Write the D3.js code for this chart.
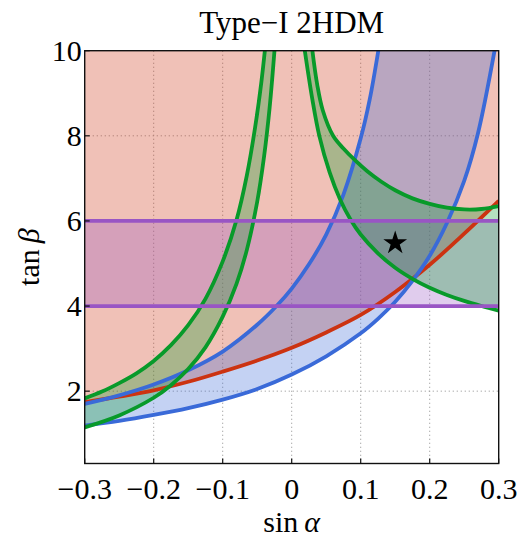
<!DOCTYPE html>
<html><head><meta charset="utf-8">
<script src="https://cdn.jsdelivr.net/npm/d3@7/dist/d3.min.js"></script>
<style>
body{margin:0;background:#fff}
text{font-family:"Liberation Serif","Times New Roman",serif;fill:#000}
</style>
</head><body>
<svg id="chart" width="517" height="541"></svg>
<script>
// ---------- data (sinα, tanβ) ----------
const xDomain = [-0.3, 0.3];
const yDomain = [0.3, 10];
const xTicks = [-0.3, -0.2, -0.1, 0, 0.1, 0.2, 0.3];
const xTickLabels = ["\u22120.3", "\u22120.2", "\u22120.1", "0", "0.1", "0.2", "0.3"];
const yTicks = [2, 4, 6, 8, 10];
const yTickLabels = ["2", "4", "6", "8", "10"];

// red boundary (region above it is shaded)
const redCurve = [[-0.3,1.74],[-0.25,1.87],[-0.2,2.02],[-0.15,2.22],[-0.1,2.46],[-0.05,2.72],[0,3.02],[0.05,3.38],[0.1,3.79],[0.15,4.33],[0.2,4.97],[0.25,5.70],[0.3,6.47]];

// blue band: upper and lower edges
const blueUpper = [[-0.3,1.70],[-0.25,1.90],[-0.2,2.155],[-0.15,2.49],[-0.1,2.93],[-0.05,3.56],[-0.022,4.0],[0,4.41],[0.025,4.98],[0.05,5.68],[0.075,6.62],[0.1,7.94],[0.113,8.85],[0.1255,10.0]];
const blueLower = [[-0.3,1.19],[-0.25,1.30],[-0.2,1.44],[-0.15,1.60],[-0.1,1.80],[-0.05,2.05],[0,2.39],[0.05,2.82],[0.1,3.36],[0.125,3.70],[0.15,4.10],[0.175,4.59],[0.2,5.18],[0.225,5.95],[0.25,6.94],[0.27,8.06],[0.294,10.0]];

// green band, left branch
const greenLeftOuter = [[-0.3,1.83],[-0.275,1.99],[-0.25,2.19],[-0.225,2.42],[-0.2,2.71],[-0.175,3.08],[-0.15,3.55],[-0.125,4.17],[-0.1,5.05],[-0.08,6.02],[-0.065,7.07],[-0.053,8.2],[-0.044,9.26],[-0.037,10.3]];
const greenLeftInner = [[-0.3,1.15],[-0.25,1.43],[-0.2,1.845],[-0.175,2.14],[-0.15,2.52],[-0.125,3.03],[-0.1,3.75],[-0.08,4.52],[-0.065,5.32],[-0.05,6.45],[-0.04,7.52],[-0.032,8.66],[-0.024,10.2]];

// green band, right branch
const greenRightLower = [[0.019,10.0],[0.03,8.85],[0.04,8.0],[0.055,7.14],[0.07,6.51],[0.085,6.04],[0.1,5.68],[0.125,5.24],[0.15,4.9],[0.175,4.64],[0.2,4.43],[0.225,4.26],[0.25,4.12],[0.275,4.0],[0.3,3.89]];
const greenRightUpper = [[0.03,10.0],[0.037,9.2],[0.045,8.6],[0.06,8.0],[0.075,7.7],[0.092,7.42],[0.11,7.16],[0.13,6.92],[0.15,6.72],[0.175,6.53],[0.2,6.4],[0.225,6.31],[0.25,6.27],[0.275,6.28],[0.3,6.35]];

// purple horizontal band
const purpleBand = [4, 6];

// benchmark point
const starPoint = [0.15, 5.48];

const title = "Type\u2212I 2HDM";

// ---------- colours ----------
const cRed = "#cc3311", cBlue = "#3a6ad8", cGreen = "#089a2a", cPurple = "#9955c4";
const fillOp = 0.3;
const FONT = "Liberation Serif, Times New Roman, serif";

// ---------- layout ----------
const svg = d3.select("#chart");
const W = 517, H = 541;
const margin = {left: 84.7, right: W - 498.7, top: 50.7, bottom: H - 463.5};
const x = d3.scaleLinear().domain(xDomain).range([margin.left, W - margin.right]);
const y = d3.scaleLinear().domain(yDomain).range([H - margin.bottom, margin.top]);
const [x0, x1] = x.range();
const [yb, yt] = y.range();

svg.append("rect").attr("width", W).attr("height", H).attr("fill", "#fff");

svg.append("defs").append("clipPath").attr("id", "plotClip")
  .append("rect").attr("x", x0).attr("y", yt).attr("width", x1 - x0).attr("height", yb - yt);

// grid
const grid = svg.append("g");
grid.selectAll(".gx").data(xTicks.slice(1, -1)).join("line")
  .attr("x1", d => x(d)).attr("x2", d => x(d)).attr("y1", yt).attr("y2", yb)
  .attr("stroke", "#a0a0a0").attr("stroke-width", 1).attr("stroke-dasharray", "1.2,2.8");
grid.selectAll(".gy").data(yTicks.slice(0, -1)).join("line")
  .attr("x1", x0).attr("x2", x1).attr("y1", d => y(d)).attr("y2", d => y(d))
  .attr("stroke", "#a0a0a0").attr("stroke-width", 1).attr("stroke-dasharray", "1.2,2.8");

const plot = svg.append("g").attr("clip-path", "url(#plotClip)");

const line = d3.line().x(d => x(d[0])).y(d => y(d[1])).curve(d3.curveCatmullRom.alpha(0.5));
const cont = pts => line(pts).replace(/^M/, "L");
function band(a, b) { return line(a) + cont(b.slice().reverse()) + "Z"; }

// fills
const topY = yDomain[1];
plot.append("path")
  .attr("d", line(redCurve) + `L${x(xDomain[1])},${y(topY)}L${x(xDomain[0])},${y(topY)}Z`)
  .attr("fill", cRed).attr("fill-opacity", fillOp);
plot.append("path").attr("d", band(blueUpper, blueLower))
  .attr("fill", cBlue).attr("fill-opacity", fillOp);
plot.append("rect")
  .attr("x", x0).attr("width", x1 - x0)
  .attr("y", y(purpleBand[1])).attr("height", y(purpleBand[0]) - y(purpleBand[1]))
  .attr("fill", cPurple).attr("fill-opacity", fillOp);
plot.append("path").attr("d", band(greenLeftOuter, greenLeftInner))
  .attr("fill", cGreen).attr("fill-opacity", fillOp);
plot.append("path").attr("d", band(greenRightLower, greenRightUpper))
  .attr("fill", cGreen).attr("fill-opacity", fillOp);

// boundary lines
const lw = 3.8;
plot.append("path").attr("d", line(redCurve)).attr("fill", "none").attr("stroke", cRed).attr("stroke-width", lw);
[blueUpper, blueLower].forEach(c => plot.append("path").attr("d", line(c)).attr("fill", "none").attr("stroke", cBlue).attr("stroke-width", lw));
[greenLeftOuter, greenLeftInner, greenRightLower, greenRightUpper].forEach(c =>
  plot.append("path").attr("d", line(c)).attr("fill", "none").attr("stroke", cGreen).attr("stroke-width", lw));
purpleBand.forEach(v => plot.append("line").attr("x1", x0).attr("x2", x1).attr("y1", y(v)).attr("y2", y(v))
  .attr("stroke", cPurple).attr("stroke-width", lw));

// star
plot.append("path").attr("d", d3.symbol(d3.symbolStar, 175)())
  .attr("transform", `translate(${x(starPoint[0])},${y(starPoint[1])})`).attr("fill", "#000");

// frame
svg.append("rect").attr("x", x0).attr("y", yt).attr("width", x1 - x0).attr("height", yb - yt)
  .attr("fill", "none").attr("stroke", "#111").attr("stroke-width", 1.4);

// ticks
svg.selectAll(".tx").data(xTicks).join("line")
  .attr("x1", d => x(d)).attr("x2", d => x(d)).attr("y1", yb).attr("y2", yb - 5)
  .attr("stroke", "#111").attr("stroke-width", 1.2);
svg.selectAll(".ty").data(yTicks).join("line")
  .attr("x1", x0).attr("x2", x0 + 5).attr("y1", d => y(d)).attr("y2", d => y(d))
  .attr("stroke", "#111").attr("stroke-width", 1.2);

// tick labels
svg.selectAll(".lx").data(xTicks).join("text")
  .attr("x", d => x(d)).attr("y", yb + 35).attr("text-anchor", "middle")
  .attr("font-family", FONT).attr("font-size", 30).text((d, i) => xTickLabels[i]);
svg.selectAll(".ly").data(yTicks).join("text")
  .attr("x", x0 - 3).attr("y", d => y(d) + 10).attr("text-anchor", "end")
  .attr("font-family", FONT).attr("font-size", 30).text((d, i) => yTickLabels[i]);

// title
svg.append("text").attr("x", (x0 + x1) / 2).attr("y", 33).attr("text-anchor", "middle")
  .attr("font-family", FONT).attr("font-size", 31).text(title);

// axis labels
const xl = svg.append("text").attr("x", (x0 + x1) / 2).attr("y", 532).attr("text-anchor", "middle")
  .attr("font-family", FONT).attr("font-size", 30);
xl.append("tspan").text("sin\u2009");
xl.append("tspan").attr("font-style", "italic").text("\u03b1");
const yl = svg.append("text").attr("transform", `translate(39,${(yt + yb) / 2}) rotate(-90)`)
  .attr("text-anchor", "middle").attr("font-family", FONT).attr("font-size", 30);
yl.append("tspan").text("tan\u2009");
yl.append("tspan").attr("font-style", "italic").text("\u03b2");
</script>
</body></html>
